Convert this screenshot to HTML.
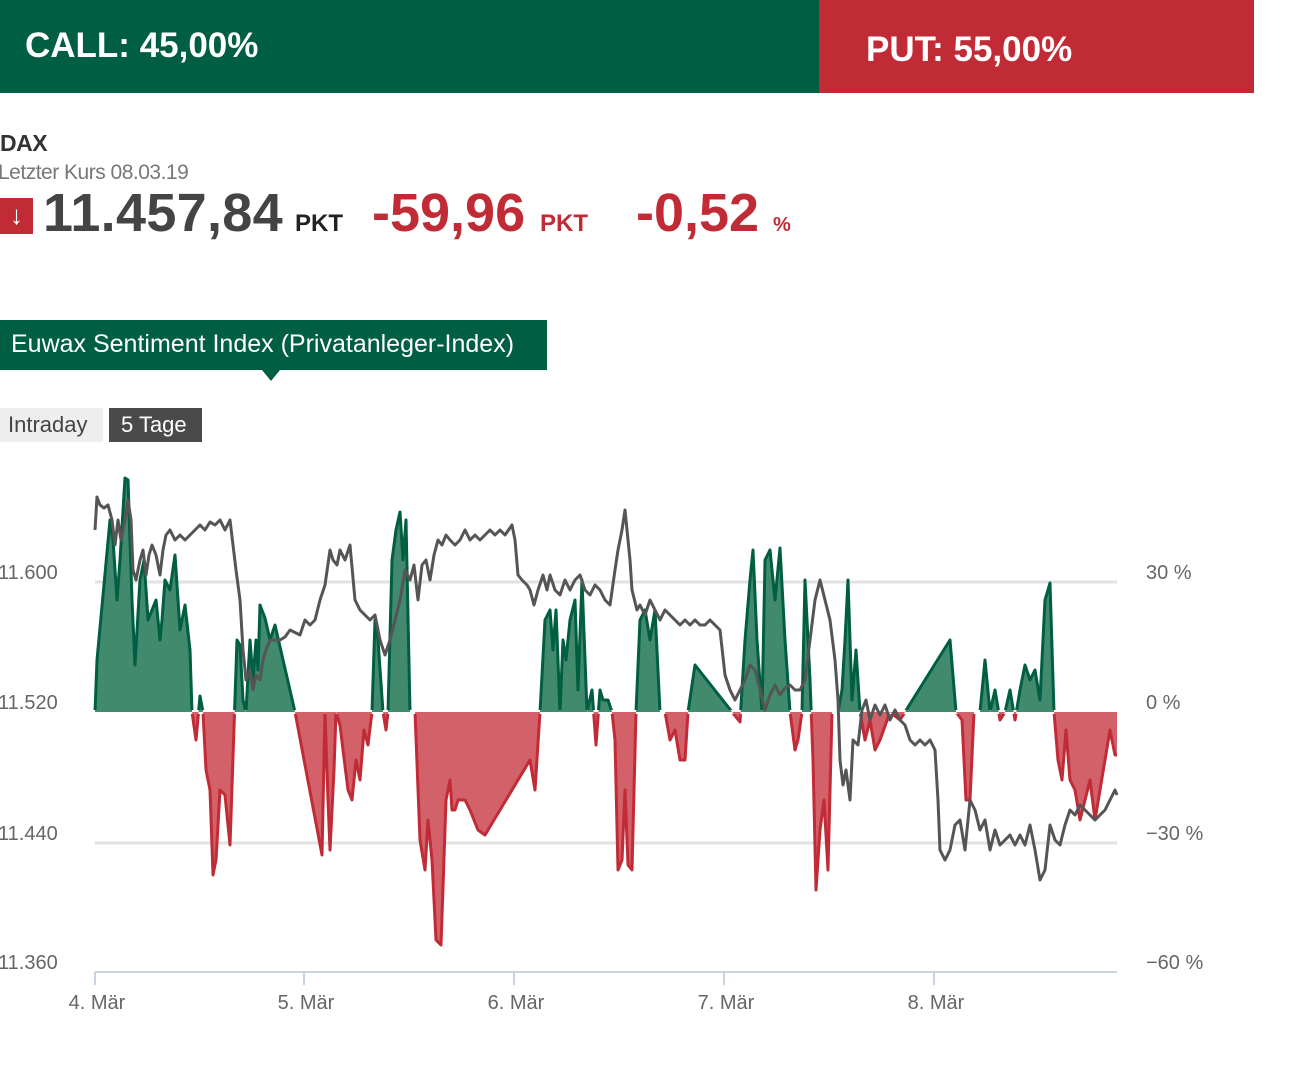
<!DOCTYPE html>
<html><head><meta charset="utf-8"><style>
body{margin:0;width:1315px;height:1077px;background:#fff;font-family:"Liberation Sans",sans-serif;position:relative;overflow:hidden}
.a{position:absolute;white-space:nowrap}
</style></head><body>
<div class="a" style="left:0;top:0;width:819px;height:93px;background:#005e42"></div>
<div class="a" style="left:819px;top:0;width:435px;height:93px;background:#c12b36"></div>
<div class="a" style="left:25px;top:26px;color:#fff;font-weight:bold;font-size:35px">CALL: 45,00%</div>
<div class="a" style="left:866px;top:30px;color:#fff;font-weight:bold;font-size:35px">PUT: 55,00%</div>
<div class="a" style="left:0;top:130px;color:#333;font-weight:bold;font-size:23px;letter-spacing:-0.5px">DAX</div>
<div class="a" style="left:-2px;top:161px;color:#777;font-size:21px;letter-spacing:-0.5px">Letzter Kurs 08.03.19</div>
<div class="a" style="left:0;top:198px;width:33px;height:36px;background:#c12b36;color:#fff;font-size:26px;font-weight:bold;text-align:center;line-height:34px">↓</div>
<div class="a" style="left:43px;top:182px;color:#444;font-weight:bold;font-size:54px;letter-spacing:0.3px">11.457,84</div>
<div class="a" style="left:295px;top:210px;color:#222;font-weight:bold;font-size:24px">PKT</div>
<div class="a" style="left:372px;top:182px;color:#c12b36;font-weight:bold;font-size:54px;letter-spacing:0px">-59,96</div>
<div class="a" style="left:540px;top:210px;color:#c12b36;font-weight:bold;font-size:24px">PKT</div>
<div class="a" style="left:636px;top:182px;color:#c12b36;font-weight:bold;font-size:54px;letter-spacing:0px">-0,52</div>
<div class="a" style="left:773px;top:214px;color:#c12b36;font-weight:bold;font-size:20px">%</div>
<div class="a" style="left:0;top:320px;width:547px;height:50px;background:#005e42"></div>
<div class="a" style="left:262px;top:370px;width:0;height:0;border-left:9px solid transparent;border-right:9px solid transparent;border-top:11px solid #005e42"></div>
<div class="a" style="left:11px;top:330px;color:#fff;font-size:25px">Euwax Sentiment Index (Privatanleger-Index)</div>
<div class="a" style="left:0;top:408px;width:103px;height:34px;background:#eee"></div>
<div class="a" style="left:8px;top:412px;color:#444;font-size:22px">Intraday</div>
<div class="a" style="left:109px;top:408px;width:93px;height:34px;background:#4a4a4a"></div>
<div class="a" style="left:121px;top:412px;color:#fff;font-size:22px">5 Tage</div>
<svg class="a" style="left:0;top:0" width="1315" height="1077">
<defs>
<clipPath id="up"><rect x="0" y="0" width="1315" height="712"/></clipPath>
<clipPath id="dn"><rect x="0" y="712" width="1315" height="400"/></clipPath>
<clipPath id="up2"><rect x="0" y="0" width="1315" height="710"/></clipPath>
<clipPath id="dn2"><rect x="0" y="714" width="1315" height="400"/></clipPath>
<polygon id="p" points="95,712 97,660 110,520 113,540 117,600 120,560 125,478 128,480 132,600 135,665 140,580 144,560 148,620 152,610 156,600 160,640 162,620 165,580 170,590 175,555 178,600 180,630 185,605 190,650 192,712 196,740 200,696 203,712 206,770 210,790 213,875 216,860 220,790 225,795 230,845 237,640 240,645 243,700 246,712 250,640 253,680 256,640 258,670 260,605 265,618 270,640 275,625 295,712 322,855 325,712 328,800 330,850 334,770 336,712 340,725 343,750 348,790 352,800 356,760 360,780 364,730 368,745 372,712 375,620 378,640 383,712 386,730 388,712 392,560 396,530 400,512 403,560 406,520 410,712 415,712 420,840 425,870 428,820 432,860 436,940 441,945 446,800 450,780 452,810 455,810 458,800 465,800 470,810 478,830 485,835 530,760 535,790 540,712 545,620 550,610 553,650 556,610 560,712 563,640 566,660 570,620 575,600 578,690 582,580 587,712 592,690 596,745 600,690 603,700 608,700 612,712 615,740 618,870 622,860 625,790 628,865 632,870 636,712 640,620 645,610 650,640 655,610 660,712 665,712 670,740 675,730 680,760 685,760 688,712 695,665 740,722 745,640 750,580 753,550 757,640 762,712 765,560 770,550 775,600 780,548 785,640 790,712 795,750 798,740 802,712 805,580 810,680 813,760 816,890 820,830 824,800 828,870 832,712 838,712 842,690 845,640 848,580 852,700 856,650 860,712 865,740 870,720 875,750 880,740 890,712 900,720 905,712 950,640 956,712 962,720 966,800 970,800 974,712 980,712 985,660 990,712 995,690 1000,720 1005,712 1010,690 1015,720 1020,690 1025,665 1030,680 1035,670 1040,700 1045,600 1050,583 1054,712 1058,760 1062,780 1066,730 1070,780 1075,790 1080,820 1085,800 1090,780 1095,820 1100,790 1105,760 1110,730 1115,755 1117,755 1117,712"/>
<polyline id="l" points="95,712 97,660 110,520 113,540 117,600 120,560 125,478 128,480 132,600 135,665 140,580 144,560 148,620 152,610 156,600 160,640 162,620 165,580 170,590 175,555 178,600 180,630 185,605 190,650 192,712 196,740 200,696 203,712 206,770 210,790 213,875 216,860 220,790 225,795 230,845 237,640 240,645 243,700 246,712 250,640 253,680 256,640 258,670 260,605 265,618 270,640 275,625 295,712 322,855 325,712 328,800 330,850 334,770 336,712 340,725 343,750 348,790 352,800 356,760 360,780 364,730 368,745 372,712 375,620 378,640 383,712 386,730 388,712 392,560 396,530 400,512 403,560 406,520 410,712 415,712 420,840 425,870 428,820 432,860 436,940 441,945 446,800 450,780 452,810 455,810 458,800 465,800 470,810 478,830 485,835 530,760 535,790 540,712 545,620 550,610 553,650 556,610 560,712 563,640 566,660 570,620 575,600 578,690 582,580 587,712 592,690 596,745 600,690 603,700 608,700 612,712 615,740 618,870 622,860 625,790 628,865 632,870 636,712 640,620 645,610 650,640 655,610 660,712 665,712 670,740 675,730 680,760 685,760 688,712 695,665 740,722 745,640 750,580 753,550 757,640 762,712 765,560 770,550 775,600 780,548 785,640 790,712 795,750 798,740 802,712 805,580 810,680 813,760 816,890 820,830 824,800 828,870 832,712 838,712 842,690 845,640 848,580 852,700 856,650 860,712 865,740 870,720 875,750 880,740 890,712 900,720 905,712 950,640 956,712 962,720 966,800 970,800 974,712 980,712 985,660 990,712 995,690 1000,720 1005,712 1010,690 1015,720 1020,690 1025,665 1030,680 1035,670 1040,700 1045,600 1050,583 1054,712 1058,760 1062,780 1066,730 1070,780 1075,790 1080,820 1085,800 1090,780 1095,820 1100,790 1105,760 1110,730 1115,755 1117,755"/>
</defs>
<g stroke="#e2e2e2" stroke-width="3"><line x1="95" y1="582" x2="1117" y2="582"/><line x1="95" y1="843" x2="1117" y2="843"/></g>
<line x1="95" y1="972" x2="1117" y2="972" stroke="#c8d2e0" stroke-width="2"/>
<g stroke="#c8d2e0" stroke-width="2"><line x1="95" y1="972" x2="95" y2="985"/><line x1="304" y1="972" x2="304" y2="985"/><line x1="514" y1="972" x2="514" y2="985"/><line x1="724" y1="972" x2="724" y2="985"/><line x1="934" y1="972" x2="934" y2="985"/></g>
<g font-family="Liberation Sans,sans-serif" font-size="20" fill="#666">
<text x="-2" y="579">11.600</text><text x="-2" y="709">11.520</text><text x="-2" y="840">11.440</text><text x="-2" y="969">11.360</text>
<text x="1146" y="579">30 %</text><text x="1146" y="709">0 %</text><text x="1146" y="840">−30 %</text><text x="1146" y="969">−60 %</text>
<text x="97" y="1009" text-anchor="middle">4. Mär</text><text x="306" y="1009" text-anchor="middle">5. Mär</text><text x="516" y="1009" text-anchor="middle">6. Mär</text><text x="726" y="1009" text-anchor="middle">7. Mär</text><text x="936" y="1009" text-anchor="middle">8. Mär</text>
</g>
<use href="#p" clip-path="url(#up)" fill="#418a6e"/>
<use href="#p" clip-path="url(#dn)" fill="#d26169"/>
<use href="#l" clip-path="url(#up2)" fill="none" stroke="#005e42" stroke-width="3" stroke-linejoin="round"/>
<use href="#l" clip-path="url(#dn2)" fill="none" stroke="#c12b36" stroke-width="3" stroke-linejoin="round"/>
<polyline fill="none" stroke="#555" stroke-width="3" stroke-linejoin="round" points="95,530 97,497 100,505 104,508 108,505 112,520 115,545 118,520 121,540 125,520 128,500 131,520 133,570 136,580 140,560 143,550 146,575 149,555 152,545 156,555 160,575 163,550 166,535 170,530 175,540 180,535 185,540 190,535 195,530 200,525 205,530 210,522 215,525 220,520 225,530 230,520 233,545 236,570 240,600 243,650 246,680 250,670 253,690 256,675 260,680 263,660 266,650 270,640 275,640 280,640 285,637 290,630 300,635 305,620 310,625 315,620 320,600 325,585 330,550 333,560 337,565 340,550 345,560 350,545 355,600 360,610 365,615 370,620 375,615 380,640 385,655 390,640 395,620 400,600 405,570 410,580 414,565 418,600 422,565 426,560 430,580 434,555 438,540 442,545 446,535 450,540 455,545 460,540 465,530 470,540 475,535 480,540 485,535 490,530 495,535 500,530 505,535 512,525 515,540 518,575 522,580 527,585 530,590 534,605 538,590 543,575 547,590 550,575 555,590 560,595 565,580 570,590 575,580 580,575 585,590 590,595 595,585 600,590 605,600 610,605 615,570 618,550 622,530 625,510 630,560 632,590 637,610 640,605 645,615 650,600 655,610 660,620 665,610 670,615 675,620 680,625 685,620 690,625 695,620 700,625 705,625 710,620 715,625 720,630 725,675 730,690 735,700 740,690 745,680 750,665 755,670 760,690 765,710 770,695 775,685 780,695 785,688 790,685 795,690 800,690 805,680 810,640 815,600 820,580 825,600 830,620 835,660 838,700 840,760 843,785 846,770 850,800 853,740 858,745 862,710 866,700 870,720 875,705 880,715 885,705 890,720 895,710 900,720 905,725 910,740 915,745 920,740 925,745 930,740 935,750 938,800 940,850 945,860 950,850 955,825 960,820 965,850 970,800 975,810 980,830 985,820 990,850 995,830 1000,845 1005,840 1010,835 1015,845 1020,835 1025,845 1030,825 1035,850 1040,880 1045,870 1050,825 1055,840 1060,845 1065,825 1070,810 1075,815 1080,805 1085,810 1090,815 1095,820 1100,815 1105,810 1110,800 1115,790 1117,795"/>
</svg>
</body></html>
